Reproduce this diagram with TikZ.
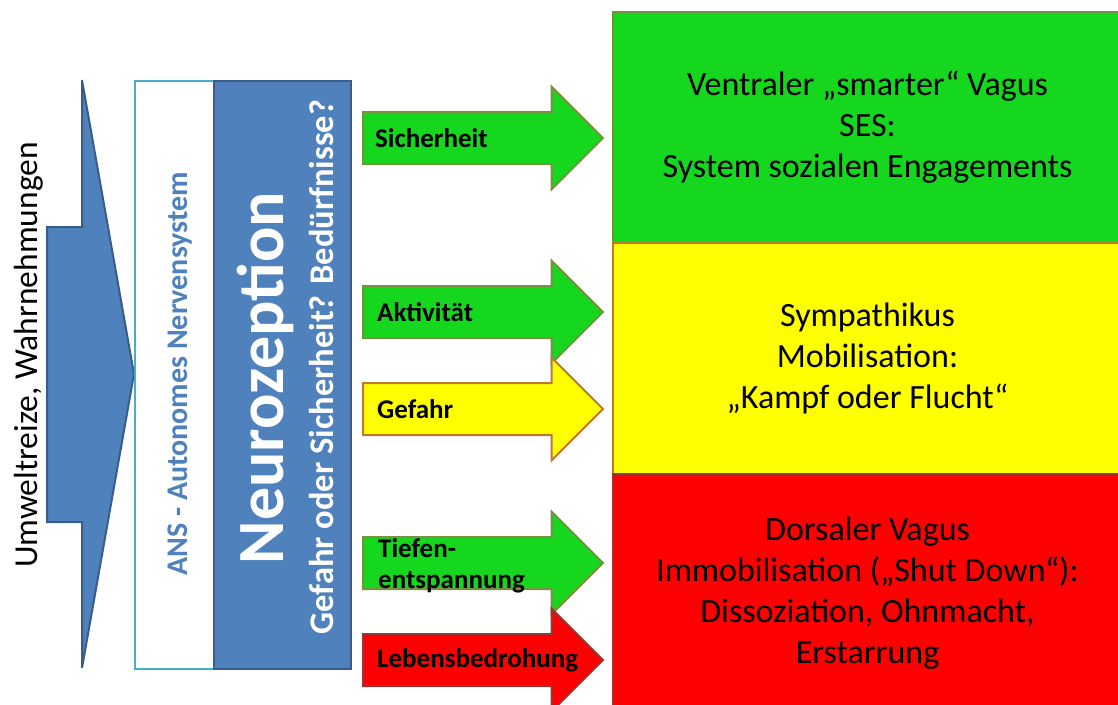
\documentclass[tikz,border=0pt]{standalone}
\usepackage{fontspec}
\setmainfont{Carlito}
\usepackage{xcolor}
\usepackage{tikz}
\usetikzlibrary{shapes.arrows,positioning}

\definecolor{blaufill}{RGB}{79,129,189}
\definecolor{blaurand}{RGB}{56,93,138}
\definecolor{ansrand}{RGB}{75,172,198}
\definecolor{gruen}{RGB}{20,215,30}
\definecolor{gruenrand}{RGB}{118,146,60}
\definecolor{gelb}{RGB}{255,255,0}
\definecolor{gelbrand}{RGB}{190,120,50}
\definecolor{rot}{RGB}{255,0,0}
\definecolor{rotrand}{RGB}{150,55,53}

\begin{document}
\begin{tikzpicture}[x=1pt,y=-1pt,
    zone/.style={draw,line width=2pt,minimum width=509pt,inner sep=0pt,align=center,
        font=\fontsize{34}{41}\selectfont},
    pfeil/.style={single arrow,draw,line width=2pt,minimum height=240pt,
        inner xsep=0pt,inner ysep=25pt,single arrow head extend=25.5pt,
        single arrow tip angle=90,anchor=tail},
    plabel/.style={inner sep=0pt,align=left,font=\fontsize{27}{31}\selectfont\bfseries},
    saeule/.style={draw,line width=2pt,minimum height=588pt,inner sep=0pt,anchor=north west}]
    \useasboundingbox (0,0) rectangle (1118,704);

    % Eingang
    \coordinate (spitze) at (134,374);
    \draw[blaurand,fill=blaufill,line width=2pt,line join=miter]
        (47,227) -- (82,227) -- (82,80) -- (spitze) -- (82,668) -- (82,522) -- (47,522) -- cycle;
    \node[rotate=90,anchor=base,font=\fontsize{33.5}{40}\selectfont] (umwelt) at (37,355) {Umweltreize, Wahrnehmungen};

    % ANS / Neurozeption
    \node[saeule,draw=ansrand,fill=white,minimum width=79pt] (ans) at (134,80) {};
    \node[saeule,draw=blaurand,fill=blaufill,minimum width=137pt] (neuro) at (213,80) {};
    \node[rotate=90,anchor=base,text=blaufill,font=\fontsize{30}{36}\selectfont\bfseries] (anstext) at (187,374) {ANS - Autonomes Nervensystem};
    \node[rotate=90,anchor=base,text=white,font=\fontsize{66}{70}\selectfont\bfseries] (neurotext) at (283,378) {Neurozeption};
    \node[rotate=90,anchor=base,text=white,font=\fontsize{34.5}{40}\selectfont\bfseries] (frage) at (333,367) {Gefahr oder Sicherheit? Bedürfnisse?};

    % Zustaende
    \node[zone,draw=gruenrand,fill=gruen,minimum height=231pt] (ventral) at (867.5,127.5)
        {Ventraler „smarter“ Vagus\\SES:\\System sozialen Engagements};
    \node[zone,draw=gelbrand,fill=gelb,minimum height=231pt] (sympath) at (867.5,358.5)
        {Sympathikus\\Mobilisation:\\„Kampf oder Flucht“};
    \node[zone,draw=rotrand,fill=rot,minimum height=238pt] (dorsal) at (867.5,593)
        {Dorsaler Vagus\\Immobilisation („Shut Down“):\\Dissoziation, Ohnmacht,\\Erstarrung};

    % Pfeile
    \node[pfeil,draw=gruenrand,fill=gruen] (sich) at (362,138) {};
    \node[plabel,right=13pt of sich.tail] (sichtext) {Sicherheit};
    \node[pfeil,draw=gruenrand,fill=gruen] (akt) at (362,312) {};
    \node[plabel,right=15pt of akt.tail] (akttext) {Aktivität};
    \node[pfeil,draw=gelbrand,fill=gelb] (gef) at (362,409) {};
    \node[plabel,right=15pt of gef.tail] (geftext) {Gefahr};
    \node[pfeil,draw=gruenrand,fill=gruen] (tief) at (362,563) {};
    \node[plabel,right=16pt of tief.tail,yshift=-3pt] (tieftext) {Tiefen-\\entspannung};
    \node[pfeil,draw=rotrand,fill=rot] (leb) at (362,660) {};
    \node[plabel,right=15pt of leb.tail] (lebtext) {Lebensbedrohung};
\end{tikzpicture}
\end{document}
